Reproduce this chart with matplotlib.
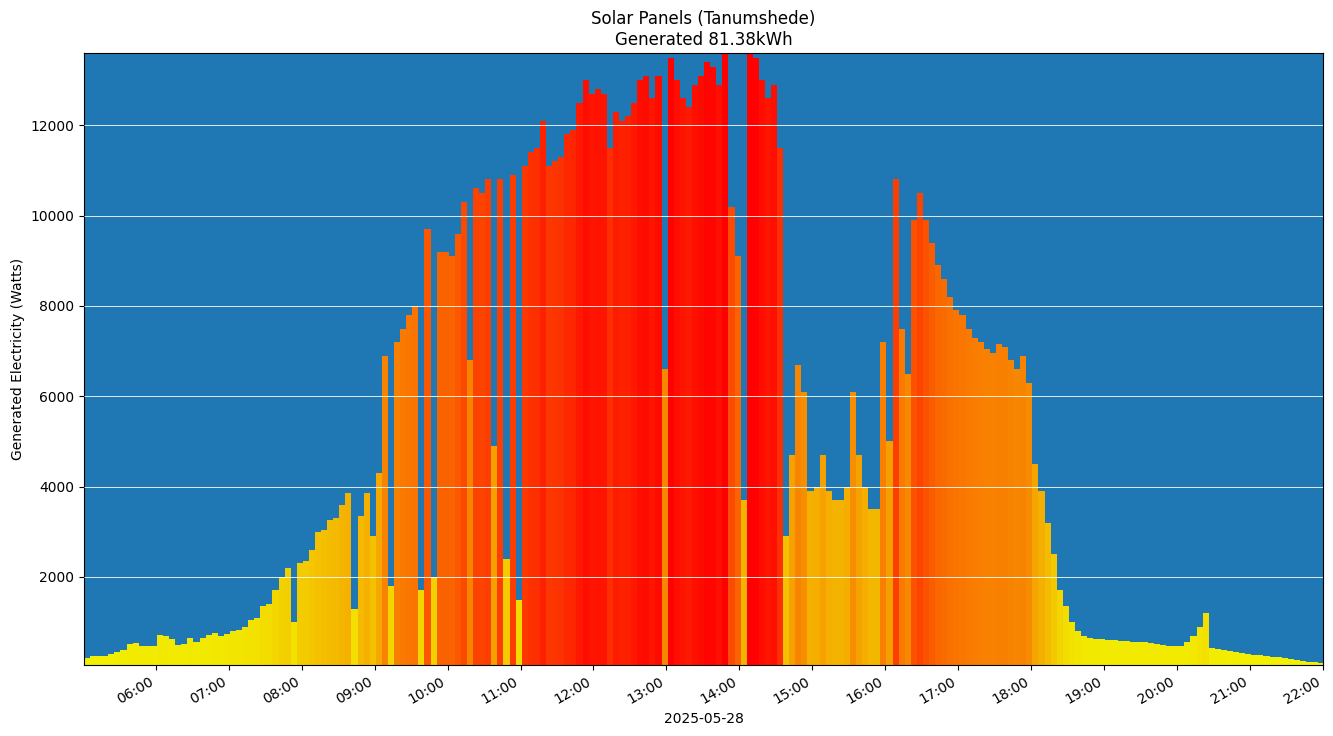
import matplotlib

matplotlib.use("Agg")
import matplotlib.dates as mdates
import matplotlib.pyplot as plt
import numpy as np
import pandas as pd
from matplotlib.colors import LinearSegmentedColormap

DAY = "2025-05-28"
START = "05:01"
STEP_MIN = 5
TITLE = "Solar Panels (Tanumshede)\nGenerated 81.38kWh"

# 5-minute samples, one row per hour (05:00 .. 21:55)
W_05 = [200, 240, 240, 260, 300, 340, 380, 520, 540, 470, 480, 460]
W_06 = [720, 700, 620, 500, 520, 640, 560, 640, 720, 760, 700, 740]
W_07 = [800, 820, 900, 1050, 1100, 1350, 1400, 1700, 2000, 2200, 1000, 2300]
W_08 = [2350, 2600, 3000, 3050, 3250, 3300, 3600, 3850, 1300, 3350, 3850, 2900]
W_09 = [4300, 6900, 1800, 7200, 7500, 7800, 8000, 1700, 9700, 2000, 9200, 9200]
W_10 = [9100, 9600, 10300, 6800, 10600, 10500, 10800, 4900, 10800, 2400, 10900, 1500]
W_11 = [11100, 11400, 11500, 12100, 11100, 11200, 11300, 11800, 11900, 12500, 13000, 12700]
W_12 = [12800, 12700, 11500, 12300, 12100, 12200, 12500, 13000, 13100, 12600, 13100, 6600]
W_13 = [13500, 13000, 12600, 12400, 12900, 13100, 13400, 13300, 12900, 13600, 10200, 9100]
W_14 = [3700, 13600, 13500, 13000, 12600, 12900, 11500, 2900, 4700, 6700, 6100, 3900]
W_15 = [4000, 4700, 3900, 3700, 3700, 4000, 6100, 4700, 4000, 3500, 3500, 7200]
W_16 = [5000, 10800, 7500, 6500, 9900, 10500, 9900, 9400, 8900, 8600, 8200, 7900]
W_17 = [7800, 7500, 7300, 7200, 7050, 6950, 7150, 7100, 6800, 6600, 6900, 6300]
W_18 = [4500, 3900, 3200, 2500, 1700, 1350, 1000, 800, 700, 650, 630, 620]
W_19 = [600, 600, 580, 580, 570, 560, 550, 530, 510, 500, 480, 470]
W_20 = [480, 560, 700, 900, 1200, 420, 400, 380, 350, 330, 310, 300]
W_21 = [280, 270, 250, 230, 220, 200, 180, 160, 140, 120, 110, 100]

watts = np.array(W_05 + W_06 + W_07 + W_08 + W_09 + W_10 + W_11 + W_12 + W_13
                 + W_14 + W_15 + W_16 + W_17 + W_18 + W_19 + W_20 + W_21, dtype=float)
times = pd.date_range(f"{DAY} {START}", periods=len(watts), freq=f"{STEP_MIN}min")

cmap = LinearSegmentedColormap.from_list("sun", ["#F2F200", "#F5A300", "#FA6400", "#FF0000"])
norm = (watts - watts.min()) / (watts.max() - watts.min())

fig = plt.figure(figsize=(13.33, 7.36), dpi=100)
ax = fig.add_axes([84 / 1333, 1 - 665 / 736, (1323 - 84) / 1333, (665 - 53) / 736])
ax.set_facecolor("#1f77b4")
ax.bar(times, watts, width=STEP_MIN / 1440, align="edge", color=cmap(norm), linewidth=0)

ax.set_xlim(times[0], pd.Timestamp(f"{DAY} 22:00"))
ax.set_ylim(50, watts.max())
ax.grid(axis="y", color="white", linewidth=0.6)
ax.set_axisbelow(False)
ax.xaxis.set_major_locator(mdates.HourLocator())
ax.xaxis.set_major_formatter(mdates.DateFormatter("%H:%M"))
for lbl in ax.get_xticklabels():
    lbl.set_rotation(30)
    lbl.set_ha("right")
ax.set_xlabel(DAY)
ax.set_ylabel("Generated Electricity (Watts)")
ax.set_title(TITLE)

fig.savefig("out.png", dpi=100)
